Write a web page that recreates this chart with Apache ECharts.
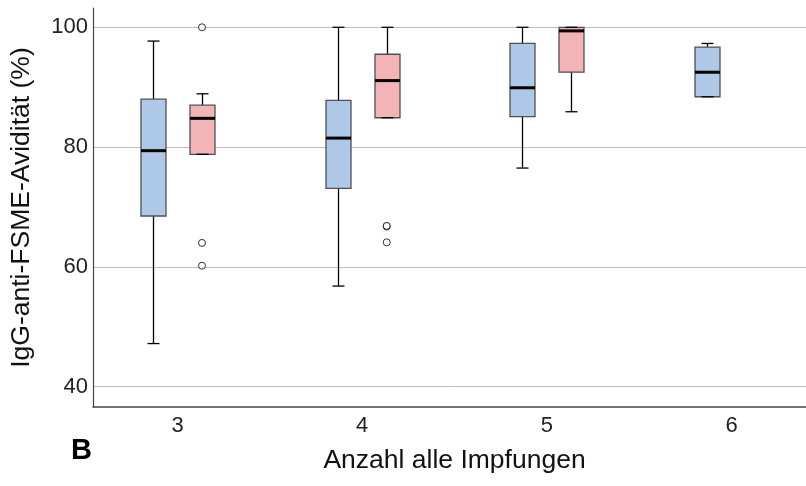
<!DOCTYPE html>
<html><head><meta charset="utf-8">
<script src="https://cdn.jsdelivr.net/npm/echarts@6/dist/echarts.min.js"></script>
<style>html,body{margin:0;padding:0;background:#fff}#c{width:806px;height:486px}</style>
</head><body><div id="c"></div>
<script>
// ---- data ----
const xTickValues = [3, 4, 5, 6];
const yTickValues = [40, 60, 80, 100];
// group A (blue): [category, min, Q1, median, Q3, max]
const groupACategories = [3, 4, 5, 6];
const groupAMin    = [47.2, 56.8, 76.5, 88.4];
const groupAQ1     = [68.5, 73.1, 85.1, 88.4];
const groupAMedian = [79.4, 81.5, 89.9, 92.5];
const groupAQ3     = [88.0, 87.8, 97.3, 96.7];
const groupAMax    = [97.7, 100.0, 100.0, 97.3];
// group B (pink)
const groupBCategories = [3, 4, 5];
const groupBMin    = [78.8, 84.9, 85.9];
const groupBQ1     = [78.8, 84.9, 92.5];
const groupBMedian = [84.8, 91.1, 99.4];
const groupBQ3     = [87.0, 95.5, 100.0];
const groupBMax    = [88.9, 100.0, 100.0];
const groupBOutlierCats   = [3, 3, 3, 4, 4, 4];
const groupBOutlierValues = [100.0, 64.0, 60.2, 66.75, 66.85, 64.1];

const FONT = "'Liberation Sans', Arial, sans-serif";

function rows(cats, mn, q1, md, q3, mx) {
  return cats.map((c, i) => [c, mn[i], q1[i], md[i], q3[i], mx[i]]);
}

function makeRender(offsetPx) {
  return function (params, api) {
    const x = api.value(0);
    const pMin = api.coord([x, api.value(1)]);
    const pQ1 = api.coord([x, api.value(2)]);
    const pMed = api.coord([x, api.value(3)]);
    const pQ3 = api.coord([x, api.value(4)]);
    const pMax = api.coord([x, api.value(5)]);
    const cx = Math.round(pMed[0] + offsetPx) + 0.5;
    const hw = 12.5, cap = 6;
    const wStyle = { stroke: '#000', lineWidth: 1.3 };
    return {
      type: 'group',
      children: [
        { type: 'line', shape: { x1: cx, y1: pQ3[1], x2: cx, y2: pMax[1] }, style: wStyle },
        { type: 'line', shape: { x1: cx, y1: pQ1[1], x2: cx, y2: pMin[1] }, style: wStyle },
        { type: 'rect', shape: { x: cx - hw, y: pQ3[1], width: 2 * hw, height: pQ1[1] - pQ3[1] },
          style: { fill: api.visual('color'), stroke: '#505050', lineWidth: 1.3 } },
        { type: 'line', shape: { x1: cx - cap, y1: pMax[1], x2: cx + cap, y2: pMax[1] }, style: wStyle },
        { type: 'line', shape: { x1: cx - cap, y1: pMin[1], x2: cx + cap, y2: pMin[1] }, style: wStyle },
        { type: 'line', shape: { x1: cx - hw, y1: pMed[1], x2: cx + hw, y2: pMed[1] },
          style: { stroke: '#000', lineWidth: 3 } }
      ]
    };
  };
}

const chart = echarts.init(document.getElementById('c'), null, { renderer: 'canvas' });
chart.setOption({
  animation: false,
  backgroundColor: '#fff',
  grid: { left: 93, right: 0, top: 8, bottom: 79, containLabel: false, outerBoundsMode: 'none' },
  xAxis: {
    type: 'value',
    min: 2.5425, max: 6.4027,
    axisLine: { show: true, onZero: false, lineStyle: { color: '#444', width: 1.5 } },
    axisTick: { show: false, customValues: xTickValues },
    splitLine: { show: false },
    axisLabel: { customValues: xTickValues, fontSize: 22, color: '#222', fontFamily: FONT, margin: 8 },
    name: 'Anzahl alle Impfungen',
    nameLocation: 'middle',
    nameGap: 40,
    nameTextStyle: { fontSize: 26.5, color: '#111', fontFamily: FONT, padding: [0, 0, 0, 10] }
  },
  yAxis: {
    type: 'value',
    min: 36.61, max: 103.22,
    axisLine: { show: true, onZero: false, lineStyle: { color: '#444', width: 1.2 } },
    axisTick: { show: false, customValues: yTickValues },
    splitLine: { show: true, lineStyle: { color: '#bdbdbd', width: 1 } },
    axisLabel: { customValues: yTickValues, fontSize: 22, color: '#222', fontFamily: FONT, margin: 5 },
    name: 'IgG-anti-FSME-Avidität (%)',
    nameLocation: 'middle',
    nameRotate: 90,
    nameGap: 58,
    nameTextStyle: { fontSize: 26.5, color: '#111', fontFamily: FONT }
  },
  graphic: [{
    type: 'text', left: 71, top: 436,
    style: { text: 'B', font: "bold 29px 'Liberation Sans', Arial, sans-serif", fill: '#000' }
  }],
  series: [
    {
      type: 'custom', name: 'A', color: '#adc9e7',
      renderItem: makeRender(-24.5),
      encode: { x: 0, y: [1, 2, 3, 4, 5] },
      data: rows(groupACategories, groupAMin, groupAQ1, groupAMedian, groupAQ3, groupAMax),
      z: 3
    },
    {
      type: 'custom', name: 'B', color: '#f2b4b4',
      renderItem: makeRender(24.5),
      encode: { x: 0, y: [1, 2, 3, 4, 5] },
      data: rows(groupBCategories, groupBMin, groupBQ1, groupBMedian, groupBQ3, groupBMax),
      z: 3
    },
    {
      type: 'scatter', name: 'B outliers',
      symbol: 'circle', symbolSize: 7, symbolOffset: [24.5, 0],
      itemStyle: { color: '#fff', borderColor: '#000', borderWidth: 1 },
      data: groupBOutlierCats.map((c, i) => [c, groupBOutlierValues[i]]),
      z: 4
    }
  ]
});
</script>
</body></html>
